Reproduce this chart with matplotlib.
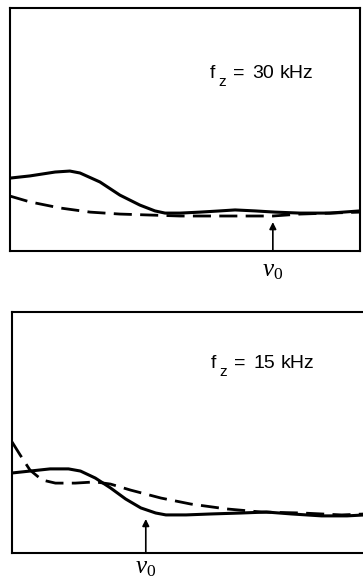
import numpy as np
import matplotlib.pyplot as plt

plt.rcParams['font.family'] = ['Liberation Sans', 'DejaVu Sans']
plt.rcParams['mathtext.fontset'] = 'custom'
plt.rcParams['mathtext.rm'] = 'Liberation Serif'
plt.rcParams['mathtext.it'] = 'Liberation Serif:italic'

# f_z = 30 kHz
x30_solid = [0, 5.7, 12.9, 17.1, 20, 25.7, 31.4, 37.1, 41.4, 44.3, 48.6, 54.3, 60, 64.3, 70, 75.7, 82.9, 91.4, 100]
y30_solid = [30.0, 30.9, 32.5, 32.9, 32.1, 28.4, 23.0, 18.9, 16.5, 15.6, 15.6, 16.0, 16.5, 16.9, 16.5, 16.0, 15.6, 15.6, 16.5]
x30_dash = [0, 5.7, 14.3, 22.9, 31.4, 40, 48.6, 57.1, 65.7, 75.1, 82.9, 91.4, 100]
y30_dash = [22.6, 20.2, 17.7, 16.0, 15.2, 14.8, 14.4, 14.4, 14.4, 14.4, 15.2, 15.6, 16.0]
nu0_30 = 75.1

# f_z = 15 kHz
x15_solid = [0, 5.1, 10.8, 16.0, 19.4, 23.6, 27.9, 32.2, 36.5, 40.7, 43.6, 49.3, 56.4, 65.0, 72.1, 79.2, 87.7, 94.9, 100]
y15_solid = [33.2, 34.0, 34.9, 34.9, 34.0, 31.1, 27.0, 22.4, 18.7, 16.6, 15.8, 15.8, 16.2, 16.6, 17.0, 16.2, 15.4, 15.4, 15.8]
x15_dash = [0, 2.3, 5.1, 8.5, 12.3, 17.9, 23.6, 27.9, 33.6, 42.2, 50.7, 60.7, 70.7, 82.1, 93.4, 100]
y15_dash = [46.1, 40.7, 34.4, 30.3, 29.0, 29.0, 29.5, 28.6, 26.1, 22.8, 20.3, 18.3, 17.0, 16.6, 15.8, 16.2]
nu0_15 = 37.9

fig = plt.figure(figsize=(3.63, 5.81), dpi=100)
ax1 = fig.add_axes([10/363, 330/581, 350/363, 243/581])
ax2 = fig.add_axes([12/363, 28/581, 353/363, 241/581])


def fz_label(ax, x0, y0, value):
    # "f_z = value kHz", laid out piece by piece (offsets in points)
    pieces = [('f', 0, 0, 14), ('z', 6, -6, 11), ('=', 16.5, 0, 14),
              (value, 30.5, 0, 14), ('kHz', 50, 0, 14)]
    for s, dx, dy, fs in pieces:
        ax.annotate(s, xy=(x0, y0), xycoords='axes fraction',
                    xytext=(dx, dy), textcoords='offset points',
                    ha='left', va='baseline', fontsize=fs)


def panel(ax, xs, ys, xd, yd, nu0, tip, value, lx, ly, nu_off):
    ax.plot(xs, ys, color='black', lw=2.2, solid_joinstyle='round', solid_capstyle='round')
    ax.plot(xd, yd, color='black', lw=2.0, dashes=(6.5, 3))
    ax.annotate('', xy=(nu0, tip), xytext=(nu0, 0),
                arrowprops=dict(arrowstyle='-|>', color='black', lw=1.2,
                                mutation_scale=10, shrinkA=0, shrinkB=0))
    ax.annotate(r'$\nu_0$', xy=(nu0, 0), xytext=(0, nu_off), textcoords='offset points',
                ha='center', va='center', fontsize=18, annotation_clip=False)
    fz_label(ax, lx, ly, value)
    ax.set_xlim(0, 100)
    ax.set_ylim(0, 100)
    ax.set_xticks([])
    ax.set_yticks([])
    for s in ax.spines.values():
        s.set_linewidth(1.5)


panel(ax1, x30_solid, y30_solid, x30_dash, y30_dash, nu0_30, 11.9, '30', 0.571, 0.712, -14)
panel(ax2, x15_solid, y15_solid, x15_dash, y15_dash, nu0_15, 14.1, '15', 0.564, 0.768, -10)

fig.savefig('out.png', dpi=100)
